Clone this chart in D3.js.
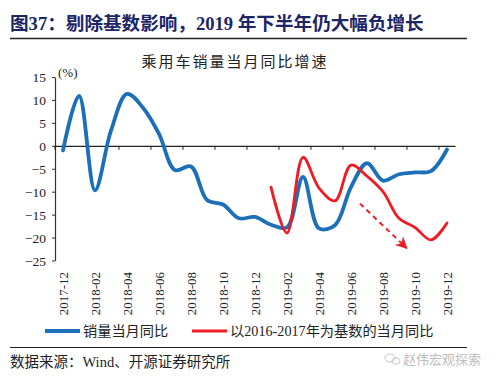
<!DOCTYPE html>
<html>
<head>
<meta charset="utf-8">
<script src="https://cdn.jsdelivr.net/npm/d3@7"></script>
<style>
  body { margin: 0; background: #fff; }
  svg { display: block; }
</style>
</head>
<body>
<svg id="chart"></svg>
<script>
// months on the category axis
const months = ["2017-12","2018-01","2018-02","2018-03","2018-04","2018-05","2018-06",
  "2018-07","2018-08","2018-09","2018-10","2018-11","2018-12","2019-01","2019-02",
  "2019-03","2019-04","2019-05","2019-06","2019-07","2019-08","2019-09","2019-10",
  "2019-11","2019-12"];

// 销量当月同比 (%)
const salesYoy = [-1.0, 10.9, -9.7, 3.3, 11.3, 8.3, 2.6, -5.3, -4.5, -11.8, -12.8, -15.8,
  -15.5, -17.2, -17.8, -6.8, -18.0, -17.3, -9.0, -3.8, -7.6, -6.2, -5.8, -5.5, -0.8];

// 以2016-2017年为基数的当月同比 (%)
const baseYoy = [null, null, null, null, null, null, null, null, null, null, null, null,
  null, -9.0, -19.0, -2.5, -9.2, -12.0, -4.2, -6.6, -10.0, -15.8, -17.8, -20.5, -16.8];

const yTicks = [15, 10, 5, 0, -5, -10, -15, -20, -25];

// dashed trend arrow, [month index, value]
const trendArrow = [[18.56, -12.6], [21.48, -22.3]];

const W = 500, H = 381;
const blue = "#1b70b9", red = "#ee1c24";
const serif = "'Liberation Serif', 'Times New Roman', 'Noto Sans CJK SC', serif";
const cjk = "'Noto Sans CJK SC', sans-serif";

const svg = d3.select("#chart").attr("width", W).attr("height", H);

// header
svg.append("text")
  .attr("x", 10).attr("y", 30)
  .style("font-family", "'Liberation Serif', 'Noto Sans CJK SC', serif")
  .style("font-weight", "bold")
  .style("font-size", "18.6px")
  .attr("fill", "#1c2566")
  .text("图37：剔除基数影响，2019 年下半年仍大幅负增长");

svg.append("line")
  .attr("x1", 10).attr("x2", 467).attr("y1", 38.5).attr("y2", 38.5)
  .attr("stroke", "#222").attr("stroke-width", 1.5);

svg.append("text")
  .attr("x", 235).attr("y", 67)
  .attr("text-anchor", "middle")
  .style("font-family", cjk)
  .style("font-size", "15px")
  .style("letter-spacing", "2px")
  .attr("fill", "#222")
  .text("乘用车销量当月同比增速");

// scales
const x = d3.scaleBand().domain(months).range([55, 455]).padding(0);
const bw = x.bandwidth();
const xc = i => x(months[0]) + bw * (i + 0.5);
const y = d3.scaleLinear().domain([-25, 15]).range([260.5, 77]);

// y axis
const yAxis = svg.append("g")
  .attr("transform", "translate(55,0)")
  .call(d3.axisLeft(y).tickValues(yTicks).tickSize(3).tickSizeOuter(0));
yAxis.select(".domain").attr("stroke", "#333").attr("stroke-width", 1.2);
yAxis.selectAll(".tick line").attr("stroke", "#333");
yAxis.selectAll(".tick text")
  .attr("x", -9).attr("dy", "0.35em")
  .style("font-family", serif).style("font-size", "13.5px").attr("fill", "#222");

svg.append("text")
  .attr("x", 58).attr("y", 77)
  .style("font-family", serif).style("font-size", "13px").attr("fill", "#222")
  .text("(%)");

// zero axis with ticks every two months
const xAxis = svg.append("g")
  .attr("transform", `translate(0,${y(0)})`)
  .call(d3.axisBottom(x).tickValues([]).tickSizeOuter(0));
xAxis.select(".domain").attr("stroke", "#222").attr("stroke-width", 1.2);
xAxis.selectAll("line.tk")
  .data(d3.range(0, months.length + 1, 2))
  .join("line")
  .attr("class", "tk")
  .attr("x1", i => x(months[0]) + i * bw).attr("x2", i => x(months[0]) + i * bw)
  .attr("y1", 0).attr("y2", 4)
  .attr("stroke", "#222");

// month labels, every two months, rotated
svg.append("g")
  .selectAll("text")
  .data(months.filter((m, i) => i % 2 === 0))
  .join("text")
  .attr("transform", d => `translate(${x(d) + bw / 2 + 4.5},272) rotate(-90)`)
  .attr("text-anchor", "end")
  .style("font-family", serif).style("font-size", "13px").attr("fill", "#222")
  .text(d => d);

// lines
const line = d3.line()
  .defined(d => d != null)
  .x((d, i) => xc(i))
  .y(d => y(d))
  .curve(d3.curveCatmullRom.alpha(0.5));

svg.append("path")
  .attr("d", line(salesYoy))
  .attr("fill", "none").attr("stroke", blue).attr("stroke-width", 3.8)
  .attr("stroke-linejoin", "round").attr("stroke-linecap", "round");

svg.append("path")
  .attr("d", line(baseYoy))
  .attr("fill", "none").attr("stroke", red).attr("stroke-width", 2.8)
  .attr("stroke-linejoin", "round").attr("stroke-linecap", "round");

// dashed arrow
svg.append("defs").append("marker")
  .attr("id", "arrow")
  .attr("viewBox", "0 0 10 10")
  .attr("refX", 9).attr("refY", 5)
  .attr("markerUnits", "userSpaceOnUse")
  .attr("orient", "auto")
  .attr("markerWidth", 14).attr("markerHeight", 12)
  .append("path")
  .attr("d", "M0,0 L10,5 L0,10 L3,5 Z")
  .attr("fill", red);

svg.append("line")
  .attr("x1", xc(trendArrow[0][0])).attr("y1", y(trendArrow[0][1]))
  .attr("x2", xc(trendArrow[1][0])).attr("y2", y(trendArrow[1][1]))
  .attr("stroke", red).attr("stroke-width", 2)
  .attr("stroke-dasharray", "5,4")
  .attr("marker-end", "url(#arrow)");

// legend
const legend = [
  { label: "销量当月同比", color: blue, x: 45, w: 35, sw: 3.8 },
  { label: "以2016-2017年为基数的当月同比", color: red, x: 192, w: 35, sw: 2.8 }
];
const lg = svg.append("g").selectAll("g").data(legend).join("g");
lg.append("line")
  .attr("x1", d => d.x).attr("x2", d => d.x + d.w)
  .attr("y1", 331).attr("y2", 331)
  .attr("stroke", d => d.color).attr("stroke-width", d => d.sw);
lg.append("text")
  .attr("x", d => d.x + d.w + 3).attr("y", 336)
  .style("font-family", serif).style("font-size", "14.2px").attr("fill", "#222")
  .text(d => d.label);

// footer
svg.append("line")
  .attr("x1", 10).attr("x2", 467).attr("y1", 347.5).attr("y2", 347.5)
  .attr("stroke", "#222").attr("stroke-width", 1.2);

svg.append("text")
  .attr("x", 10).attr("y", 367)
  .style("font-family", serif).style("font-size", "14.5px").attr("fill", "#222")
  .text("数据来源：Wind、开源证券研究所");

// watermark
const wm = svg.append("g").attr("fill", "none").attr("stroke", "#c8c8c8").attr("stroke-width", 1);
wm.append("ellipse").attr("cx", 390).attr("cy", 358).attr("rx", 5).attr("ry", 4);
wm.append("ellipse").attr("cx", 396).attr("cy", 361).attr("rx", 4).attr("ry", 3.2);
svg.append("text")
  .attr("x", 403).attr("y", 364)
  .style("font-family", cjk).style("font-size", "13px").attr("fill", "#bdbdbd")
  .text("赵伟宏观探索");
</script>
</body>
</html>
